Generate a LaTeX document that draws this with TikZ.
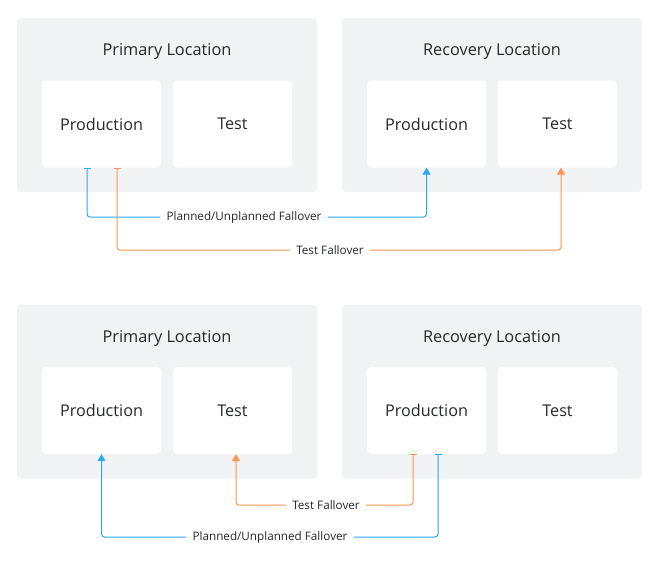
\documentclass[tikz,border=0pt]{standalone}
\usepackage{fontspec}
\setmainfont{Open Sans}
\usetikzlibrary{arrows.meta}
\definecolor{sitegray}{HTML}{F2F3F5}
\definecolor{failblue}{HTML}{2AA8F4}
\definecolor{failorange}{HTML}{FF9450}
\definecolor{inktext}{HTML}{26282B}
\tikzset{
  site/.style={fill=sitegray, rounded corners=4pt, minimum width=300pt, minimum height=174pt, inner sep=0pt},
  sitetitle/.style={text=inktext, font=\fontsize{16.3}{19}\selectfont},
  env/.style={fill=white, rounded corners=4pt, minimum width=119pt, minimum height=87pt, inner sep=0pt, text=inktext, font=\fontsize{16.2}{19}\selectfont},
  faillabel/.style={fill=white, inner sep=0pt, minimum height=10pt, text=inktext, font=\fontsize{11.7}{14}\selectfont},
  failline/.style={line width=1pt, rounded corners=3pt},
}
\begin{document}
\begin{tikzpicture}[x=1pt,y=-1pt]
			\useasboundingbox (0,0) rectangle (660,570);
			% top pair
			\node[site] (primA) at (167,105) {};
			\node[site] (recA) at (492,105) {};
			\node[sitetitle] at (167,51) {Primary Location};
			\node[sitetitle] at (492,51) {Recovery Location};
			\node[env] (primAprod) at (101.5,124) {Production};
			\node[env] (primAtest) at (232.5,124) {Test};
			\node[env] (recAprod) at (426.5,124) {Production};
			\node[env] (recAtest) at (557.5,124) {Test};
			\node[faillabel] (planA) at (244,217) {Planned/Unplanned Fallover};
			\node[faillabel] (testA) at (330,250) {Test Fallover};
			\draw[failline, failblue, {Bar[width=7pt]}-] ([xshift=-14.5pt]primAprod.south) |- ([xshift=-6pt]planA.west);
			\draw[failline, failblue, -{Triangle[width=8pt,length=7pt]}] ([xshift=6pt]planA.east) -| (recAprod.south);
			\draw[failline, failorange, {Bar[width=7pt]}-] ([xshift=15.5pt]primAprod.south) |- ([xshift=-6pt]testA.west);
			\draw[failline, failorange, -{Triangle[width=8pt,length=7pt]}] ([xshift=6pt]testA.east) -| ([xshift=3.5pt]recAtest.south);
			% bottom pair
			\node[site] (primB) at (167,391.5) {};
			\node[site] (recB) at (492,391.5) {};
			\node[sitetitle] at (167,338) {Primary Location};
			\node[sitetitle] at (492,338) {Recovery Location};
			\node[env] (primBprod) at (101.5,410.5) {Production};
			\node[env] (primBtest) at (232.5,410.5) {Test};
			\node[env] (recBprod) at (426.5,410.5) {Production};
			\node[env] (recBtest) at (557.5,410.5) {Test};
			\node[faillabel] (testB) at (326,505) {Test Fallover};
			\node[faillabel] (planB) at (270,537) {Planned/Unplanned Fallover};
			\draw[failline, failorange, {Bar[width=7pt]}-] ([xshift=-13.5pt]recBprod.south) |- ([xshift=6pt]testB.east);
			\draw[failline, failorange, -{Triangle[width=8pt,length=7pt]}] ([xshift=-6pt]testB.west) -| ([xshift=3.5pt]primBtest.south);
			\draw[failline, failblue, {Bar[width=7pt]}-] ([xshift=11.5pt]recBprod.south) |- ([xshift=6pt]planB.east);
			\draw[failline, failblue, -{Triangle[width=8pt,length=7pt]}] ([xshift=-6pt]planB.west) -| (primBprod.south);
		\end{tikzpicture}
\end{document}
